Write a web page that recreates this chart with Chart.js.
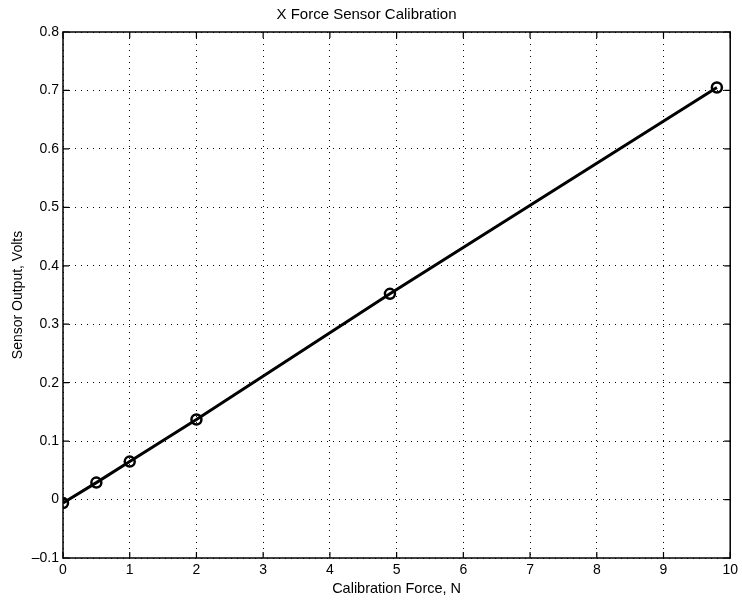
<!DOCTYPE html>
<html>
<head>
<meta charset="utf-8">
<script src="https://cdn.jsdelivr.net/npm/chart.js@4/dist/chart.umd.min.js"></script>
<style>
html, body { margin: 0; padding: 0; background: #fff; }
#wrap { width: 742px; height: 601px; }
</style>
</head>
<body>
<div id="wrap"><canvas id="grafico"></canvas></div>
<script>
// datos
const fuerza = [0, 0.5, 1, 2, 4.9, 9.8];
const voltios = [-0.006, 0.029, 0.065, 0.137, 0.352, 0.705];
const ticksX = [0, 1, 2, 3, 4, 5, 6, 7, 8, 9, 10];
const ticksY = [-0.1, 0, 0.1, 0.2, 0.3, 0.4, 0.5, 0.6, 0.7, 0.8];

const fuente = 'Liberation Sans, Arial, sans-serif';

// caja negra y marcas hacia adentro
const cajaPlugin = {
	id: 'caja',
	afterDraw(chart) {
		const { ctx, chartArea: a, scales } = chart;
		ctx.save();
		ctx.strokeStyle = '#000';
		ctx.lineWidth = 1.5;
		ctx.strokeRect(a.left, a.top, a.right - a.left, a.bottom - a.top);
		ctx.lineWidth = 1.2;
		ctx.beginPath();
		ticksX.forEach((v) => {
			const x = scales.x.getPixelForValue(v);
			ctx.moveTo(x, a.bottom);
			ctx.lineTo(x, a.bottom - 6);
			ctx.moveTo(x, a.top);
			ctx.lineTo(x, a.top + 6);
		});
		ticksY.forEach((v) => {
			const y = scales.y.getPixelForValue(v);
			ctx.moveTo(a.left, y);
			ctx.lineTo(a.left + 6, y);
			ctx.moveTo(a.right, y);
			ctx.lineTo(a.right - 6, y);
		});
		ctx.stroke();
		ctx.restore();
	},
};

const ctx = document.getElementById('grafico').getContext('2d');
new Chart(ctx, {
	type: 'scatter',
	data: {
		datasets: [
			{
				data: fuerza.map((f, i) => ({ x: f, y: voltios[i] })),
				showLine: true,
				borderColor: '#000',
				borderWidth: 3,
				pointRadius: 5,
				pointBorderWidth: 2.5,
				pointBackgroundColor: 'rgba(255,255,255,0)',
				pointBorderColor: '#000',
			},
		],
	},
	options: {
		responsive: true,
		maintainAspectRatio: false,
		animation: false,
		layout: { padding: { left: 0, right: 9, top: 0, bottom: 0 } },
		plugins: {
			legend: { display: false },
			tooltip: { enabled: false },
			title: {
				display: true,
				text: 'X Force Sensor Calibration',
				color: '#000',
				font: { family: fuente, size: 15, weight: 'normal' },
				padding: { top: 6, bottom: 8 },
			},
		},
		scales: {
			x: {
				type: 'linear',
				min: 0,
				max: 10,
				afterBuildTicks: (s) => { s.ticks = ticksX.map((v) => ({ value: v })); },
				afterFit: (s) => { s.height = 43; },
				ticks: {
					color: '#000',
					font: { family: fuente, size: 14 },
					padding: 4,
					maxRotation: 0,
				},
				grid: { color: '#000', lineWidth: 1, drawTicks: false },
				border: { display: false, dash: [1, 5] },
				title: {
					display: true,
					text: 'Calibration Force, N',
					color: '#000',
					font: { family: fuente, size: 14.5 },
					padding: { top: 2, bottom: 3 },
				},
			},
			y: {
				type: 'linear',
				min: -0.1,
				max: 0.8,
				afterBuildTicks: (s) => { s.ticks = ticksY.map((v) => ({ value: v })); },
				afterFit: (s) => { s.width = 63; },
				ticks: {
					color: '#000',
					font: { family: fuente, size: 14 },
					padding: 4,
					callback: (v) => (Math.abs(v) < 1e-9 ? '0' : (v < 0 ? '\u20130.1' : v.toFixed(1))),
				},
				grid: { color: '#000', lineWidth: 1, drawTicks: false },
				border: { display: false, dash: [1, 5] },
				title: {
					display: true,
					text: 'Sensor Output, Volts',
					color: '#000',
					font: { family: fuente, size: 14 },
					padding: { top: 10, bottom: 4 },
				},
			},
		},
	},
	plugins: [cajaPlugin],
});
</script>
</body>
</html>
